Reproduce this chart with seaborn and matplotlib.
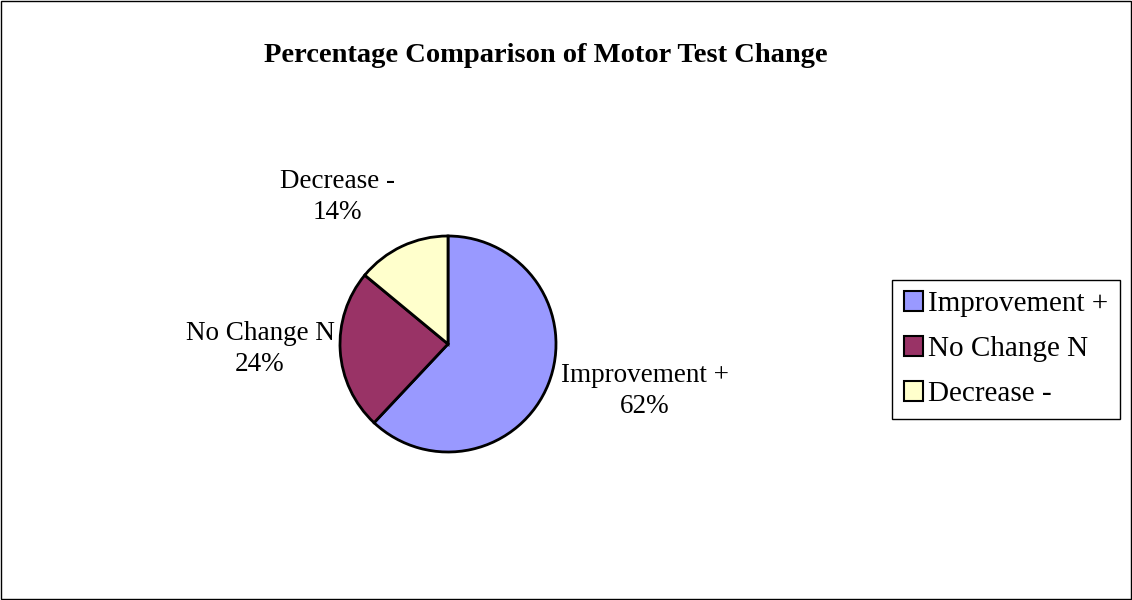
import matplotlib
matplotlib.use("Agg")
import matplotlib.pyplot as plt
import seaborn as sns
from matplotlib.patches import Rectangle

categories = ["Improvement +", "No Change N", "Decrease -"]
values = [62, 24, 14]
pct_labels = ["62%", "24%", "14%"]
colors = ["#9999FF", "#993366", "#FFFFCC"]

sns.set_theme(style="white")
plt.rcParams["font.family"] = ["Liberation Serif", "DejaVu Serif"]
plt.rcParams["text.color"] = "black"
plt.rcParams["legend.labelcolor"] = "black"

fig = plt.figure(figsize=(11.32, 6), dpi=100)
ax = fig.add_axes([0, 0, 1, 1])

wedges, _ = ax.pie(values, colors=colors, startangle=90, counterclock=False,
                   radius=108, center=(448, 256),
                   wedgeprops=dict(edgecolor="black", linewidth=2))
# pie resets the limits, so work in pixel space afterwards
ax.set_xlim(0, 1132)
ax.set_ylim(0, 600)
ax.set_aspect("equal")
ax.axis("off")

# label positions in pixel space (Excel-style placement)
label_pos = [(645, 209), (260, 251), (337, 403)]
for cat, p, (x, y) in zip(categories, pct_labels, label_pos):
    ax.text(x, y, f"{cat}\n{p}", ha="center", va="center", fontsize=19.5,
            linespacing=1.35, color="black")

ax.text(546, 545, "Percentage Comparison of Motor Test Change", ha="center",
        va="center", fontsize=20.5, fontweight="bold", color="black")

leg = ax.legend(wedges, categories, loc="lower left",
                bbox_to_anchor=(892 / 1132, 1 - 419 / 600), fontsize=21,
                frameon=True, fancybox=False, edgecolor="black", facecolor="white",
                framealpha=1, handlelength=0.65, handleheight=0.65, handletextpad=0.2,
                borderpad=0.4, labelspacing=0.65, borderaxespad=0)
leg.get_frame().set_linewidth(1)
for h in leg.legend_handles:
    h.set_linewidth(1.5)

fig.patches.append(Rectangle((0.001, 0.001), 0.998, 0.998, transform=fig.transFigure,
                             fill=False, edgecolor="black", linewidth=1))

fig.savefig("out.png", dpi=100)
